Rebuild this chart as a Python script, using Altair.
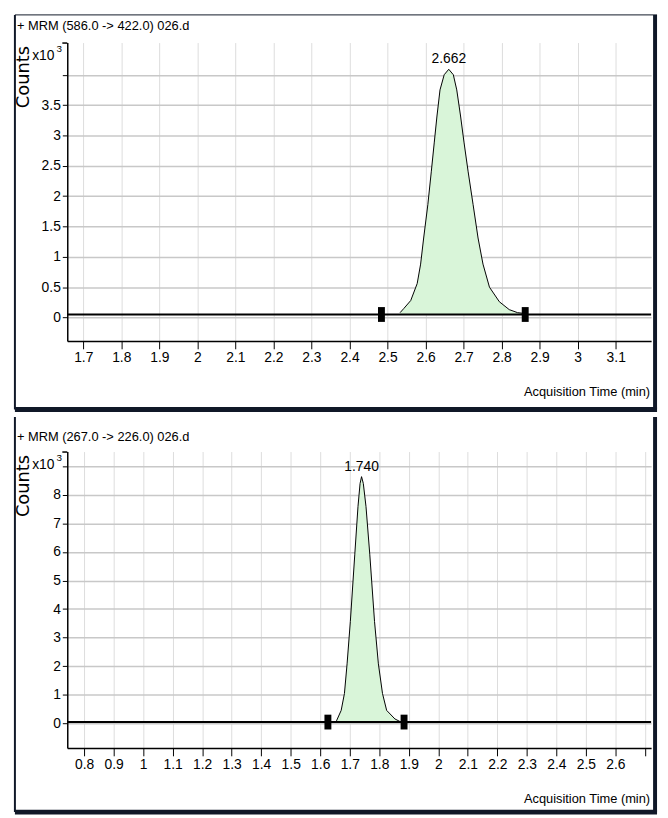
import altair as alt
import pandas as pd

FONT = "Liberation Sans, Arial, sans-serif"
BORDER = "#101828"
FILL = "#d9f5d9"

# ---------------- Panel 1 data ----------------
p1_title = "+ MRM (586.0 -> 422.0) 026.d"
p1_time = [2.533, 2.543, 2.561, 2.578, 2.587, 2.595, 2.606, 2.615, 2.623, 2.630,
           2.638, 2.649, 2.661, 2.673, 2.682, 2.692, 2.701, 2.712, 2.725, 2.738,
           2.751, 2.768, 2.794, 2.820, 2.842, 2.856]
p1_counts = [0.08, 0.15, 0.28, 0.56, 0.88, 1.31, 1.86, 2.40, 2.89, 3.32,
             3.75, 4.00, 4.09, 4.00, 3.75, 3.32, 2.89, 2.40, 1.86, 1.31,
             0.88, 0.50, 0.26, 0.13, 0.08, 0.07]
p1_markers = [2.484, 2.862]
p1_peak_time = [2.661]
p1_peak_value = [4.09]
p1_peak_label = ["2.662"]
p1_baseline = [0.05]
p1_xdomain = [1.658, 3.193]
p1_xticks = [1.7, 1.8, 1.9, 2.0, 2.1, 2.2, 2.3, 2.4, 2.5, 2.6, 2.7, 2.8, 2.9, 3.0, 3.1]
p1_xlabel_max = 3.15
p1_ydomain = [-0.385, 4.53]
p1_yticks = [0, 0.5, 1, 1.5, 2, 2.5, 3, 3.5, 4]
p1_ylabel_max = 3.75

# ---------------- Panel 2 data ----------------
p2_title = "+ MRM (267.0 -> 226.0) 026.d"
p2_time = [1.655, 1.671, 1.682, 1.691, 1.702, 1.717, 1.728, 1.735, 1.740, 1.746,
           1.755, 1.768, 1.784, 1.797, 1.811, 1.825, 1.853, 1.870]
p2_counts = [0.08, 0.45, 1.04, 2.08, 3.56, 5.90, 7.60, 8.40, 8.64, 8.40,
             7.60, 5.90, 3.56, 2.08, 1.04, 0.45, 0.15, 0.06]
p2_markers = [1.626, 1.884]
p2_peak_time = [1.740]
p2_peak_value = [8.64]
p2_peak_label = ["1.740"]
p2_baseline = [0.04]
p2_xdomain = [0.743, 2.721]
p2_xticks = [0.8, 0.9, 1.0, 1.1, 1.2, 1.3, 1.4, 1.5, 1.6, 1.7, 1.8, 1.9, 2.0,
             2.1, 2.2, 2.3, 2.4, 2.5, 2.6, 2.7]
p2_xlabel_max = 2.65
p2_ydomain = [-0.865, 9.52]
p2_yticks = [0, 1, 2, 3, 4, 5, 6, 7, 8, 9]
p2_ylabel_max = 8.5

y_title = ["Counts"]
x_title = ["Acquisition Time (min)"]
mult_text = ["x10"]
mult_exp = ["3"]

W = 591


def one(col, val):
    return pd.DataFrame({col: val})


def panel(title, time, counts, markers, peak_t, peak_v, peak_lab, baseline,
          xdom, xticks, xlab_max, ydom, yticks, ylab_max, H, top_ext, bottom_border, title_y):
    xs = alt.Scale(domain=xdom, nice=False, zero=False)
    ys = alt.Scale(domain=ydom, nice=False, zero=False)
    xax = alt.Axis(values=xticks, format="~g",
                   labelExpr=f"datum.value > {xlab_max} ? '' : datum.label",
                   grid=True, gridColor="#dcdcdc", gridWidth=1,
                   tickSize=8, tickColor="black", tickWidth=1,
                   domainColor="black", domainWidth=1.5,
                   labelFontSize=14, labelColor="black", labelPadding=2,
                   labelOverlap=False, labelFlush=False, title=None)
    yax = alt.Axis(values=yticks, format="~g",
                   labelExpr=f"datum.value > {ylab_max} ? '' : datum.label",
                   grid=True, gridColor="#c8c8c8", gridWidth=1.5,
                   tickSize=5, tickColor="black", tickWidth=1,
                   domainColor="black", domainWidth=1.5,
                   labelFontSize=14, labelColor="black", labelPadding=2,
                   labelOverlap=False, labelFlush=False, title=None)

    X = lambda f: alt.X(f, scale=xs, axis=xax)
    Y = lambda f: alt.Y(f, scale=ys, axis=yax)

    df = pd.DataFrame({"t": time, "c": counts, "b": baseline * len(time)})
    area = alt.Chart(df).mark_area(
        color=FILL, opacity=1,
        line={"color": "black", "strokeWidth": 1}
    ).encode(x=X("t:Q"), y=Y("c:Q"), y2="b:Q")
    base = alt.Chart(one("b", baseline)).mark_rule(color="black", strokeWidth=2).encode(
        y=Y("b:Q"))
    mk = alt.Chart(pd.DataFrame({"t": markers, "b": baseline * len(markers)})).mark_tick(
        orient="vertical", color="black", thickness=7, size=15, opacity=1).encode(
        x=X("t:Q"), y=Y("b:Q"))
    plab = alt.Chart(pd.DataFrame({"t": peak_t, "v": peak_v, "l": peak_lab})).mark_text(
        fontSize=14, baseline="bottom", dy=-3, color="black").encode(
        x=X("t:Q"), y=Y("v:Q"), text="l:N")

    ttl = alt.Chart(one("s", [title])).mark_text(
        fontSize=13, align="left", baseline="middle", color="black").encode(
        x=alt.value(-51), y=alt.value(title_y), text="s:N")
    ctitle = alt.Chart(one("s", y_title)).mark_text(
        font="DejaVu Sans", fontSize=18, angle=270, align="center", baseline="middle",
        color="black").encode(x=alt.value(-44), y=alt.value(35), text="s:N")
    m1 = alt.Chart(one("s", mult_text)).mark_text(
        fontSize=14, align="right", baseline="middle", color="black").encode(
        x=alt.value(-13), y=alt.value(14), text="s:N")
    m2 = alt.Chart(one("s", mult_exp)).mark_text(
        fontSize=10, align="left", baseline="middle", color="black").encode(
        x=alt.value(-11), y=alt.value(7), text="s:N")
    bracket = alt.Chart(one("s", ["k"])).mark_rule(color="black", strokeWidth=1.5).encode(
        x=alt.value(-5), x2=alt.value(0), y=alt.value(0.5))
    xt = alt.Chart(one("s", x_title)).mark_text(
        fontSize=13, align="right", baseline="middle", color="black").encode(
        x=alt.value(W - 1), y=alt.value(H + 52), text="s:N")

    lb = alt.Chart(one("s", ["k"])).mark_rule(color=BORDER, strokeWidth=2).encode(
        x=alt.value(-53), y=alt.value(-top_ext), y2=alt.value(H + bottom_border))
    rb = alt.Chart(one("s", ["k"])).mark_rule(color=BORDER, strokeWidth=4).encode(
        x=alt.value(W + 4), y=alt.value(-top_ext), y2=alt.value(H + bottom_border))
    bb = alt.Chart(one("s", ["k"])).mark_rule(color=BORDER, strokeWidth=5).encode(
        x=alt.value(-53), x2=alt.value(W + 6), y=alt.value(H + bottom_border))

    layers = [area, base, mk, plab, ttl, ctitle, m1, m2, bracket, xt, lb, rb, bb]
    if top_ext < 33:
        tb = alt.Chart(one("s", ["k"])).mark_rule(color=BORDER, strokeWidth=1).encode(
            x=alt.value(-53), x2=alt.value(W + 6), y=alt.value(-top_ext))
        layers.append(tb)
    return alt.layer(*layers).properties(width=W, height=H)


top = panel(p1_title, p1_time, p1_counts, p1_markers, p1_peak_time, p1_peak_value,
            p1_peak_label, p1_baseline, p1_xdomain, p1_xticks, p1_xlabel_max,
            p1_ydomain, p1_yticks, p1_ylabel_max, 302, 28, 69.5, -17)
bottom = panel(p2_title, p2_time, p2_counts, p2_markers, p2_peak_time, p2_peak_value,
               p2_peak_label, p2_baseline, p2_xdomain, p2_xticks, p2_xlabel_max,
               p2_ydomain, p2_yticks, p2_ylabel_max, 300, 35, 65, -15)

chart = alt.vconcat(top, bottom, spacing=3).properties(
    padding={"left": 4, "top": 0, "right": 0, "bottom": 0},
    background="white",
).configure(font=FONT).configure_view(stroke=None)

chart.save("out.html", embed_options={"renderer": "svg", "actions": False})
